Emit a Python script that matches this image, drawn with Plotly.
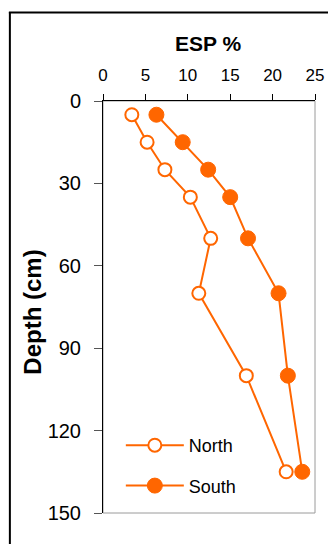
import plotly.graph_objects as go

depth = [5, 15, 25, 35, 50, 70, 100, 135]
north_esp = [3.4, 5.2, 7.3, 10.3, 12.7, 11.3, 16.9, 21.6]
south_esp = [6.3, 9.4, 12.4, 15.0, 17.1, 20.7, 21.8, 23.5]
x_ticks = [0, 5, 10, 15, 20, 25]
y_ticks = [0, 30, 60, 90, 120, 150]

ORANGE = "#FF6600"
FONT = "Liberation Sans, Arial, sans-serif"

OFF = 8  # default page body margin
W, H = 336 - OFF, 544 - OFF
ML, MR, MT, MB = 103 - OFF, 19, 101 - OFF, 31
PW, PH = W - ML - MR, H - MT - MB


def px_x(px):
    """page x pixel -> paper coordinate"""
    return (px - OFF - ML) / PW


def px_y(py):
    """page y pixel -> paper coordinate"""
    return (OFF + H - MB - py) / PH


fig = go.Figure()
fig.add_trace(go.Scatter(
    x=north_esp, y=depth, mode="lines+markers", name="North",
    legendgroup="n",
    line=dict(color=ORANGE, width=2),
    marker=dict(symbol="circle", size=13, color="white",
                line=dict(color=ORANGE, width=2)),
))
fig.add_trace(go.Scatter(
    x=south_esp, y=depth, mode="lines+markers", name="South",
    legendgroup="s",
    line=dict(color=ORANGE, width=2),
    marker=dict(symbol="circle", size=15, color=ORANGE,
                line=dict(color=ORANGE, width=1)),
))

fig.update_layout(
    width=W, height=H,
    margin=dict(l=ML, r=MR, t=MT, b=MB, pad=0),
    paper_bgcolor="white", plot_bgcolor="white",
    font=dict(family=FONT, color="black"),
    showlegend=True,
    legend=dict(
        x=px_x(121), y=px_y(427), xanchor="left", yanchor="top",
        bgcolor="rgba(0,0,0,0)", font=dict(size=18, family=FONT),
        traceorder="grouped", tracegroupgap=14,
        itemwidth=58,
    ),
    xaxis=dict(
        side="top", range=[0, 25], tickvals=x_ticks,
        ticks="outside", ticklen=6, tickcolor="black", tickwidth=1,
        showline=True, linecolor="black", linewidth=1,
        showgrid=False, zeroline=False,
        tickfont=dict(size=17, family=FONT),
        ticklabelstandoff=6,
    ),
    yaxis=dict(
        range=[150, 0], tickvals=y_ticks,
        ticks="outside", ticklen=8, tickcolor="#555555", tickwidth=1,
        showline=True, linecolor="black", linewidth=1,
        showgrid=False, zeroline=False,
        tickfont=dict(size=20, family=FONT),
        ticklabelstandoff=9,
    ),
    annotations=[
        dict(text="<b>ESP %</b>", xref="paper", yref="paper",
             x=px_x(209), y=px_y(43), xanchor="center", yanchor="middle",
             showarrow=False, font=dict(size=21, family=FONT)),
        dict(text="<b>Depth (cm)</b>", xref="paper", yref="paper",
             x=px_x(31), y=px_y(312), xanchor="center", yanchor="middle",
             textangle=-90, showarrow=False, font=dict(size=24, family=FONT)),
    ],
    shapes=[
        # plot area border (gray right/bottom)
        dict(type="rect", xref="paper", yref="paper", x0=0, x1=1, y0=0, y1=1,
             line=dict(color="#9a9a9a", width=1), layer="below"),
        # black frame: left and top
        dict(type="line", xref="paper", yref="paper",
             x0=px_x(9), x1=px_x(9), y0=px_y(H + OFF + 2), y1=px_y(12),
             line=dict(color="black", width=2)),
        dict(type="line", xref="paper", yref="paper",
             x0=px_x(8), x1=px_x(W + OFF + 2), y0=px_y(12.5), y1=px_y(12.5),
             line=dict(color="black", width=2)),
    ],
)

fig.write_html("out.html")
